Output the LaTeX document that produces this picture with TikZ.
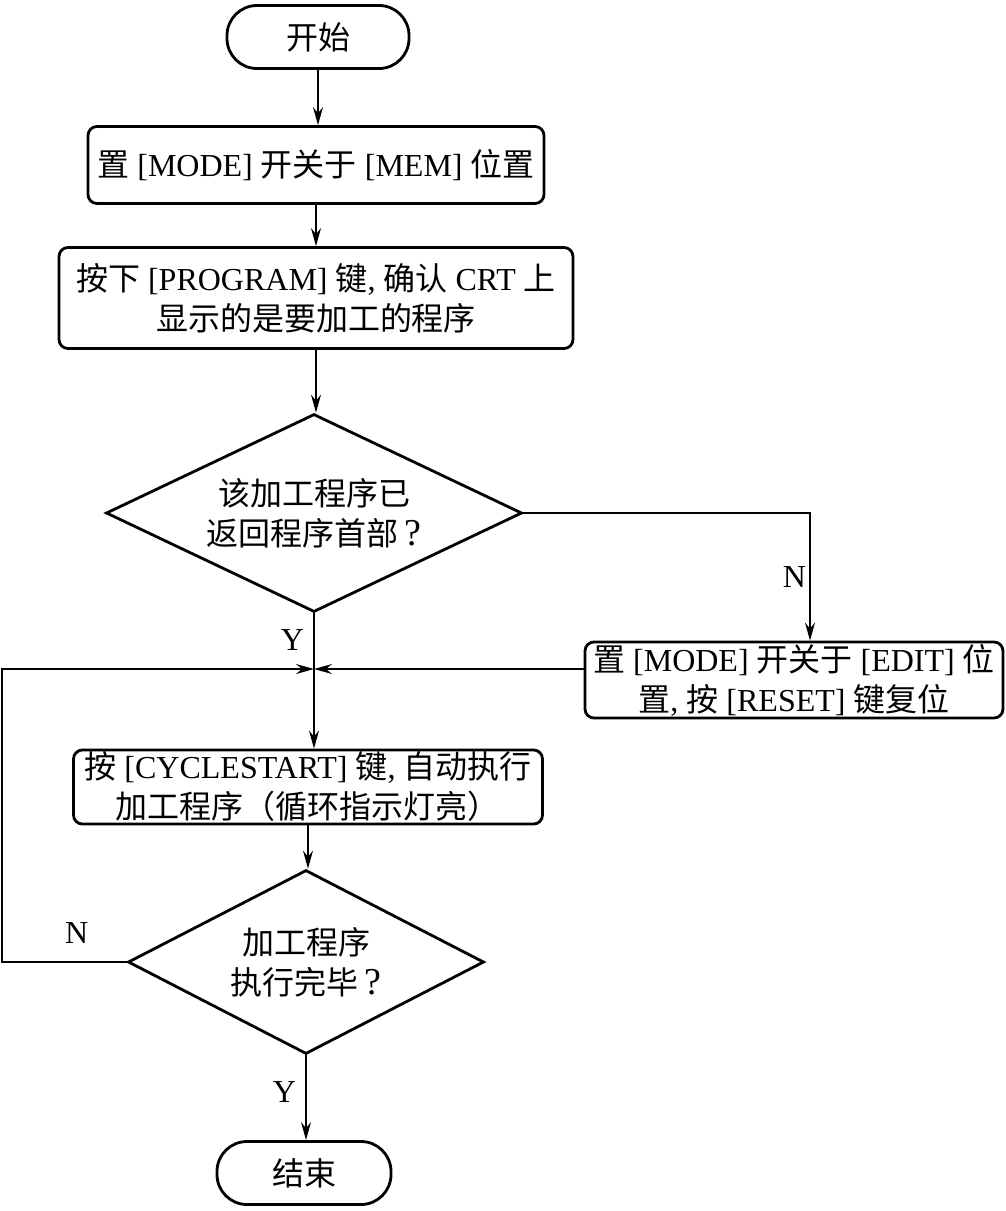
\documentclass[tikz,border=0pt]{standalone}
\usepackage{fontspec}
\setmainfont{Liberation Serif}
\newfontfamily\cjk{Noto Sans CJK SC}
\newcommand{\zh}[1]{{\cjk #1}}
\newcommand{\qm}{\,{\fontsize{38}{40}\selectfont ?}}
\usetikzlibrary{arrows.meta,shapes.geometric}

\begin{document}
\begin{tikzpicture}[
  x=1pt, y=-1pt,
  font=\fontsize{32}{40}\selectfont,
  term/.style={draw, line width=2.8pt, rounded corners=30pt, minimum height=63pt},
  stepbox/.style={draw, line width=2.8pt, rounded corners=9pt, align=center,
    inner xsep=1pt, inner ysep=2pt},
  decide/.style={draw, diamond, aspect=2, line width=2.8pt, align=center, inner sep=0pt},
  arrow/.style={-{Stealth[length=18pt, width=10pt, inset=6pt]}, line width=1.5pt},
]
\useasboundingbox (0,0) rectangle (1006,1211);
\node[term, minimum width=182pt] (start) at (318,37) {\zh{开始}};
\node[stepbox, minimum width=456pt, minimum height=77pt] (mem) at (316,165)
  {\zh{置} [MODE] \zh{开关于} [MEM] \zh{位置}};
\node[stepbox, minimum width=514pt, minimum height=101pt] (prog) at (316,298)
  {\zh{按下} [PROGRAM] \zh{键}, \zh{确认} CRT \zh{上}\\ \zh{显示的是要加工的程序}};
\node[decide, minimum width=416pt, minimum height=198pt] (chk) at (314,513)
  {\zh{该加工程序已}\\ \zh{返回程序首部}\qm};
\node[stepbox, minimum width=418pt, minimum height=72pt] (edit) at (794,680)
  {\zh{置} [MODE] \zh{开关于} [EDIT] \zh{位}\\ \zh{置}, \zh{按} [RESET] \zh{键复位}};
\node[stepbox, minimum width=469pt, minimum height=72pt] (cyc) at (308,787)
  {\zh{按} [CYCLESTART] \zh{键}, \zh{自动执行}\\ \zh{加工程序（循环指示灯亮）}};
\node[decide, minimum width=356pt, minimum height=184pt] (done) at (306,962)
  {\zh{加工程序}\\ \zh{执行完毕}\qm};
\node[term, minimum width=174pt] (stop) at (304,1173) {\zh{结束}};
\coordinate (join) at (314,669);
\coordinate (loop) at (2,669);
\draw[arrow] (start) -- (start |- mem.north);
\draw[arrow] (mem) -- (mem |- prog.north);
\draw[arrow] (prog) -- (prog |- chk.north);
\draw[arrow] (chk) -- node[pos=0.2, left, xshift=-6pt] {Y} (chk |- cyc.north);
\draw[arrow] (chk.east) -| node[pos=0.75, left] {N} ([xshift=16pt]edit.north);
\draw[arrow] (edit.west |- join) -- (join);
\draw[arrow] (cyc) -- (cyc |- done.north);
\draw[arrow] (done.west) -| node[pos=0.2, above, yshift=14pt] {N} (loop) -- (join);
\draw[arrow] (done) -- node[pos=0.43, left, xshift=-6pt] {Y} (done |- stop.north);
\end{tikzpicture}
\end{document}
